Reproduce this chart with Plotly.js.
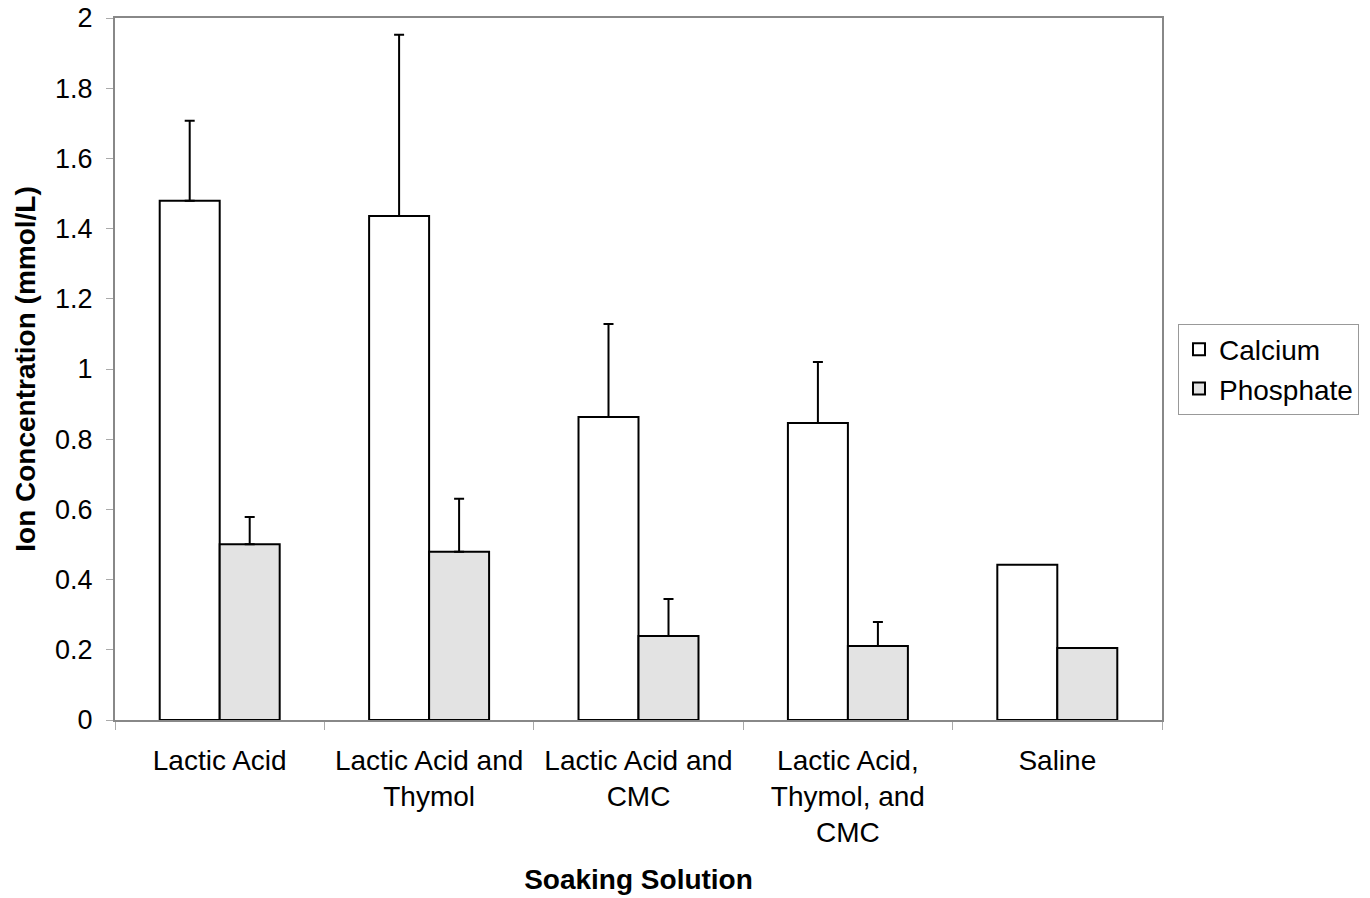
<!DOCTYPE html>
<html>
<head>
<meta charset="utf-8">
<script src="https://cdn.plot.ly/plotly-3.0.1.min.js"></script>
<style>html,body{margin:0;padding:0;background:#fff;}#chart{width:1370px;height:898px;}</style>
</head>
<body>
<div id="chart"></div>
<script>
const categories = ["Lactic Acid", "Lactic Acid and<br>Thymol", "Lactic Acid and<br>CMC", "Lactic Acid,<br>Thymol, and<br>CMC", "Saline"];
const calcium = [1.479, 1.436, 0.863, 0.846, 0.442];
const calciumErr = [0.228, 0.516, 0.265, 0.174, NaN];
const phosphate = [0.501, 0.479, 0.239, 0.211, 0.205];
const phosphateErr = [0.077, 0.151, 0.106, 0.068, NaN];
const yTicks = [0, 0.2, 0.4, 0.6, 0.8, 1, 1.2, 1.4, 1.6, 1.8, 2];

const font = "Liberation Sans, Arial, sans-serif";
const errStyle = {type: "data", symmetric: false, arrayminus: [0,0,0,0,NaN], color: "#000", thickness: 2, width: 5};

const traces = [
  {type: "bar", name: "Calcium", x: categories, y: calcium,
   marker: {color: "#ffffff", line: {color: "#000", width: 2}},
   error_y: Object.assign({}, errStyle, {array: calciumErr, visible: true})},
  {type: "bar", name: "Phosphate", x: categories, y: phosphate,
   marker: {color: "#e3e3e3", line: {color: "#000", width: 2}},
   error_y: Object.assign({}, errStyle, {array: phosphateErr, visible: true})}
];

const layout = {
  width: 1370, height: 898,
  margin: {l: 115, r: 207, t: 18, b: 178},
  paper_bgcolor: "#fff", plot_bgcolor: "#fff",
  font: {family: font, size: 28, color: "#000"},
  barmode: "group", bargap: 0.427, bargroupgap: 0,
  showlegend: true,
  legend: {x: 1.0143, xanchor: "left", y: 0.5, yanchor: "middle",
           bordercolor: "#999", borderwidth: 1, font: {size: 28, family: font},
           itemwidth: 30, tracegroupgap: 0},
  xaxis: {type: "category", showline: true, linecolor: "#888", linewidth: 2, mirror: true,
          ticks: "outside", tickson: "boundaries", ticklen: 8, tickcolor: "#aaa", tickwidth: 1,
          showgrid: false, tickfont: {size: 28, family: font}, ticklabelstandoff: 14,
          title: {text: "<b>Soaking Solution</b>", font: {size: 28, family: font}, standoff: 22}},
  yaxis: {range: [0, 2], tickvals: yTicks, showline: true, linecolor: "#888", linewidth: 2, mirror: true,
          ticks: "outside", ticklen: 7, tickcolor: "#aaa", tickwidth: 1, showgrid: false, zeroline: false,
          tickfont: {size: 27, family: font}, ticklabelstandoff: 8,
          title: {text: "<b>Ion Concentration (mmol/L)</b>", font: {size: 28, family: font}, standoff: 11}}
};

Plotly.newPlot("chart", traces, layout, {displayModeBar: false, staticPlot: true});
</script>
</body>
</html>
